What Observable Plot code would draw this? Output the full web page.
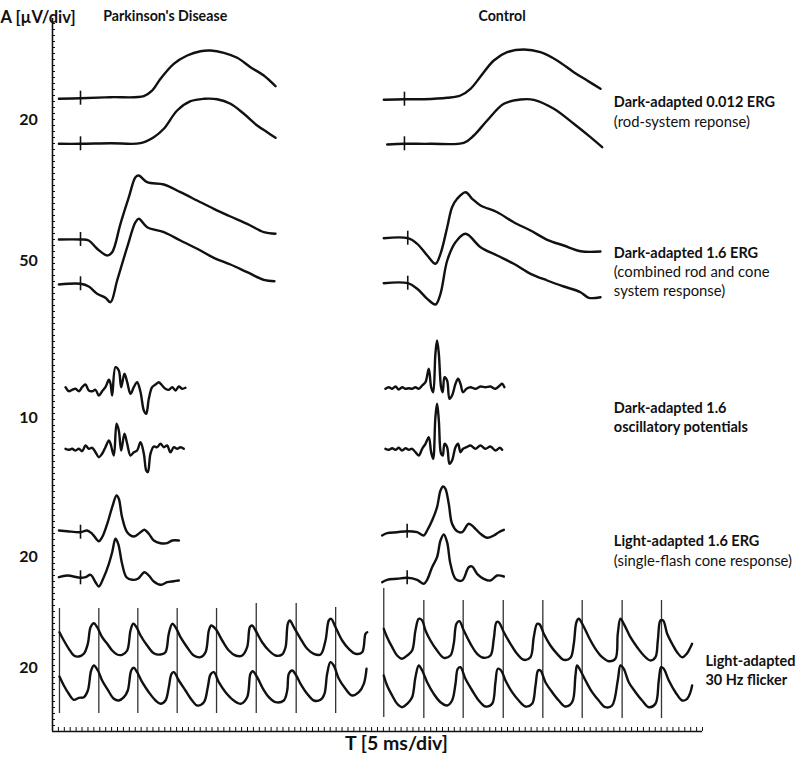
<!DOCTYPE html>
<html><head><meta charset="utf-8">
<script src="https://cdn.jsdelivr.net/npm/d3@7"></script>
<script src="https://cdn.jsdelivr.net/npm/@observablehq/plot@0.6"></script>
<style>body{margin:0;background:#fff}#chart svg{display:block}</style>
</head><body><div id="chart"></div>
<script>
// ---------- DATA (x: time in ms, y: vertical trace units) ----------
const groupNames = ["Parkinson's Disease", "Control"];
const scaleLabels = ["20", "50", "10", "20", "20"];
const panelTitles = ["Dark-adapted 0.012 ERG", "Dark-adapted 1.6 ERG", "Dark-adapted 1.6\noscillatory potentials", "Light-adapted 1.6 ERG", "Light-adapted\n30 Hz flicker"];
const panelNotes = ["(rod-system reponse)", "(combined rod and cone\nsystem response)", "", "(single-flash cone response)", ""];
const axisTitleY = "A [µV/div]";
const axisTitleX = "T [5 ms/div]";

// Dark-adapted 0.012 ERG
const rodPD_top = [[5.4,632.7],[23.7,633.3],[49.1,634.3],[77.3,635.3],[84.4,641],[91.4,652.7],[102.6,667.7],[114.0,676],[125.2,680.3],[133.7,681],[145.0,678.7],[156.3,673.7],[167.5,664.3],[178.8,656],[188.7,645.3]];
const rodPD_bot = [[5.4,587.7],[23.7,587.7],[49.1,588.3],[74.5,588.3],[85.7,594.3],[94.2,602.7],[105.5,621],[116.8,630.3],[128.0,632.7],[139.3,632.3],[150.6,627.7],[161.9,617.7],[173.2,606],[181.7,599.3],[188.7,593.7]];
const rodCtl_top = [[280.3,631.7],[297.8,632.3],[314.2,632.3],[334.0,633.7],[345.2,636],[353.7,642.7],[362.2,655],[373.4,671],[384.7,679.3],[398.8,682],[412.9,679.3],[427.0,671],[441.1,659.3],[452.4,651],[463.7,642.7]];
const rodCtl_bot = [[283.2,587],[297.8,587.7],[319.8,587.7],[348.0,588.7],[356.5,596],[367.8,611],[381.9,627.7],[396.0,632],[407.3,631.7],[424.2,622.7],[441.1,607.7],[455.2,594.3],[465.1,584.3]];

// Dark-adapted 1.6 ERG
const mixPD_top = [[5.4,492],[23.7,492],[30.7,491],[37.8,482.7],[46.3,476],[50.5,479.3],[57.5,507.7],[64.6,534.3],[70.2,554.3],[73.0,556],[80.1,549.3],[94.2,547],[108.3,539.3],[122.4,531],[136.5,522.7],[150.6,515],[164.7,507.7],[178.8,499.3],[188.7,497.7]];
const mixPD_bot = [[5.4,447],[23.7,447.7],[30.7,445],[37.8,437.7],[44.8,433.7],[49.1,429.3],[54.7,451],[63.2,484.3],[70.2,509.3],[73.0,512.7],[80.1,504.3],[94.2,499.3],[108.3,491],[122.4,482.7],[136.5,473.7],[150.6,467],[164.7,459.3],[178.8,451.7],[187.8,450.3]];
const mixCtl_top = [[280.3,493.3],[300.6,493.3],[308.6,487.7],[317.1,476],[324.1,467.7],[328.3,477.7],[334.0,504.3],[338.1,524.3],[342.4,532.7],[349.5,539.3],[355.1,532.7],[362.2,526],[376.3,519.3],[390.3,509.3],[404.5,501],[418.6,491.7],[432.6,486],[446.8,480.3],[463.7,480]];
const mixCtl_bot = [[280.3,448.3],[300.6,448.3],[308.6,442.7],[317.1,432.7],[324.1,427],[328.3,437.7],[334.0,471],[341.0,489.3],[349.5,497.7],[362.2,484.3],[376.3,476],[390.3,467.7],[404.5,457.7],[418.6,451],[432.6,445],[446.8,439.3],[453.8,433.7],[463.7,434.3]];

// Dark-adapted 1.6 oscillatory potentials
const opsPD_t_top = [11.0,13.8,16.6,19.5,22.3,25.1,27.9,30.7,33.6,36.4,39.2,42.0,44.8,47.7,49.1,50.5,53.3,56.1,58.1,60.9,63.2,66.0,68.8,71.6,74.5,77.3,79.3,81.5,84.3,87.2,90.0,92.8,95.6,98.4,101.3,104.1,106.9,109.7,112.5];
const opsPD_top = [344.3,340.3,341.7,342.7,340.3,344.3,347,341,340.3,341.7,336,340.3,344.3,351.7,347.7,336,364.3,361,344.3,357.7,349.3,337.7,344.3,349.3,339.3,321,317.7,332.7,344.3,347,349.3,346,342.7,341.7,344.3,341,345,342.7,343.7];
const opsPD_t_bot = [11.0,13.8,16.6,19.5,22.3,25.1,27.9,30.7,33.6,36.4,39.2,42.0,44.8,47.7,49.1,51.9,54.2,56.1,58.1,60.9,63.2,66.0,68.8,71.6,74.5,77.3,79.3,80.7,82.9,85.7,88.6,91.4,94.2,97.0,99.8,102.7,105.5,108.3,111.1];
const opsPD_bot = [282.7,281.7,282.7,281,282.7,280.3,286,282.7,283.7,279.3,274.3,277.7,284.3,291,287.7,276,307.7,301,281,297.7,287.7,276,279.3,281,289.3,277.7,261,259.3,277.7,285,284.3,287.7,284.3,286,279.3,284.3,282.7,284.3,282.7];
const opsCtl_t_top = [281.7,284.6,287.4,290.2,293.0,295.8,298.7,301.5,304.3,307.1,309.9,312.8,315.6,318.4,320.4,322.1,324.0,325.4,326.9,328.8,330.2,331.7,333.9,335.9,338.1,341.0,343.2,345.2,347.4,350.3,353.7,357.9,362.1,366.3,370.6,374.8,378.5,380.5,382.4];
const opsCtl_top = [342.7,344.3,342.7,345,342,344.3,342.7,343.3,342.7,344.3,342.7,346,349.3,362.7,344.3,339.3,377.7,391,377.7,344.3,339.3,354.3,351,332.7,336,347.7,352.7,347.7,339.3,342.7,344.3,342.7,345,344.3,345,342.7,346,347.7,344.3];
const opsCtl_t_bot = [281.7,284.6,287.4,290.2,293.0,295.8,298.7,301.5,304.3,307.1,309.9,312.8,315.6,318.4,320.4,322.1,324.0,325.4,326.9,328.8,330.2,331.7,333.9,335.9,338.1,341.0,343.2,345.2,347.4,350.3,353.7,357.9,362.1,366.3,370.6,374.8,378.5,380.5];
const opsCtl_bot = [282.7,281.7,283.3,281.7,283.7,281,283.3,281.7,282.7,279.3,276,282.7,287.7,294.3,279.3,272.7,314.3,327.7,311,277.7,276,287.7,284.3,267.7,271,284.3,287.7,279.3,282.7,284.3,286,282.7,286,282.7,285,281,283.7,281.7];

// Light-adapted 1.6 ERG
const conePD_top = [[5.4,201],[12.4,200.3],[23.7,199.3],[29.3,201],[33.6,197.7],[39.2,190.3],[42.0,194.3],[46.3,207.7],[50.5,224.3],[54.2,236],[56.1,232.7],[58.9,214.3],[63.2,199.3],[68.8,195],[74.5,199.3],[77.8,201.7],[81.5,197.7],[85.7,191],[91.4,188.3],[97.0,188.3],[101.3,191],[106.9,191]];
const conePD_bot = [[5.4,154.3],[12.4,156],[23.7,153.7],[27.9,154.3],[32.2,156.7],[36.4,149.3],[39.2,145],[43.4,154.3],[47.7,167.7],[50.5,179.3],[53.3,192.7],[55.6,187.7],[58.9,167.7],[62.6,154.3],[67.4,151.7],[72.2,152.7],[77.8,159.3],[81.5,156],[85.7,150],[91.4,146.7],[97.0,149.3],[102.7,150.3],[106.9,151]];
const coneCtl_top = [[278.9,196],[283.1,198.3],[291.6,199.3],[300.1,200.3],[308.5,199.3],[314.2,196],[317.0,201],[321.2,211],[325.4,224.3],[328.3,241],[330.5,245],[332.5,242.7],[335.3,227.7],[338.1,207.7],[342.4,200.3],[346.6,199.3],[352.2,207.7],[356.5,204.3],[362.1,197.7],[367.8,193.7],[373.4,196],[377.6,199.3],[381.9,201.7]];
const coneCtl_bot = [[278.9,149.3],[283.1,151.7],[291.6,152.7],[300.1,153.7],[308.5,151.7],[314.2,147.7],[317.0,151.7],[321.2,164.3],[325.4,174.3],[328.3,191],[331.1,197],[333.9,189.3],[336.7,167.7],[341.0,152.7],[346.6,151],[352.2,164.3],[355.1,165],[359.3,157.7],[364.9,152.7],[370.6,151],[376.2,156],[381.9,155]];

// Light-adapted 30 Hz flicker
const flkPD_t_top = [5.9,9.6,13.8,18.1,22.3,26.5,29.9,32.2,35.0,37.8,42.0,46.3,50.5,54.7,58.9,63.2,66.0,68.3,71.1,74.5,80.1,85.7,91.4,95.6,98.4,101.3,104.1,108.3,113.9,119.6,125.2,129.5,132.3,134.3,137.9,143.6,149.2,154.8,160.5,164.7,167.0,168.9,171.8,177.4,183.1,188.7,194.3,197.2,199.1,200.8,204.2,209.9,215.5,221.1,226.8,231.0,233.8,235.8,239.5,245.1,250.7,256.4,262.0,264.8,266.3];
const flkPD_top = [99.3,91,82.7,76,75,77.7,87.7,104.3,108.3,104.3,94.3,87.7,81,77,76.7,81,101,107.7,104.3,96,86,78.3,77,79.3,97.7,107.7,104.3,94.3,84.3,76,74.3,79.3,101,106,102.7,91,81,76,76,84.3,104.3,106,101,89.3,81,76,77,84.3,107.7,111,104.3,92.7,82.7,77.7,77,91,111,112.7,104.3,91,82.7,77.7,79.3,97.7,99.3];
const flkPD_t_bot = [5.9,9.6,13.8,18.1,22.3,26.5,29.9,32.7,35.0,38.4,42.0,46.3,51.9,56.1,60.4,63.7,66.6,68.8,71.6,75.9,81.5,87.2,91.4,95.6,98.4,100.7,102.7,106.9,112.5,118.2,122.4,128.1,131.4,133.7,136.5,140.7,146.4,153.4,159.1,164.7,167.5,169.5,173.2,177.4,183.1,188.7,195.7,198.6,200.0,202.8,206.2,209.9,215.5,221.1,226.8,230.1,232.4,235.2,238.0,242.3,247.9,253.5,259.2,263.4,265.7];
const flkPD_bot = [55,46,37.7,31.7,33.7,34.3,41,61,66,61,51,42.7,32.7,31,34.3,41,61,63.7,59.3,49.3,39.3,31,27.7,31,44.3,57.7,59.3,51,41,31,26,29.3,44.3,57,59.3,49.3,39.3,31,27.7,34.3,57.7,60.3,54.3,44.3,34.3,29.3,31,41,57.7,61,56,47.7,37.7,31,31.7,37.7,57.7,69.3,66,52.7,42.7,36,39.3,47.7,62.7];
const flkCtl_t_top = [280.3,283.1,287.4,291.6,295.8,300.1,304.3,307.1,309.9,312.8,315.6,319.8,325.4,331.1,336.7,339.5,341.8,344.3,348.0,353.7,359.3,364.9,370.6,373.4,375.7,377.6,381.9,387.5,393.1,398.8,404.4,407.2,410.1,412.3,415.7,421.3,427.0,432.6,438.3,441.1,443.3,445.3,449.0,453.8,459.4,465.1,470.7,476.3,478.3,480.6,483.4,489.0,494.7,500.3,506.0,510.2,512.2,514.4,516.7,520.1,524.3,528.5,532.8,537.0,539.8,541.2];
const flkCtl_top = [102.7,94.3,84.3,76,72.7,76,81,101,112.7,111,101,91,81,73.7,76,87.7,107.7,110.3,101,87.7,77.7,73.7,76,92.7,109.3,109.3,99.3,87.7,77.7,71.7,74.3,94.3,107.7,107,97.7,86,77.7,71.7,73.7,87.7,109.3,112.7,106,94.3,82.7,74.3,70.3,72.7,97.7,112.7,107.7,94.3,84.3,76,71,74.3,91,111,111,97.7,87.7,79.3,74.3,78.3,84.3,87.7];
const flkCtl_t_bot = [280.3,283.1,287.4,291.6,295.8,300.1,304.3,307.1,309.9,312.8,317.0,322.6,328.3,333.9,338.1,341.0,342.9,345.2,349.4,355.1,360.7,366.3,372.0,374.8,376.8,379.6,383.3,388.9,394.5,400.2,405.8,408.7,410.9,412.9,417.1,422.8,428.4,434.0,439.7,442.5,443.9,446.7,451.0,456.6,462.2,467.9,473.5,478.3,480.6,483.4,487.6,493.3,498.9,504.6,510.2,513.0,515.0,517.2,521.5,527.1,532.8,537.0,539.8,541.2];
const flkCtl_bot = [56,46,36,27.7,24.3,27.7,34.3,54.3,66,61,49.3,37.7,29.3,26,31,47.7,62.7,64.3,52.7,41,31,25,27.7,49.3,62.7,61,51,39.3,31,25,27.7,46,61,61,49.3,39.3,31,25,29.3,56,66,61,51,39.3,31,24.3,26,51,66,62.7,49.3,39.3,31,24.3,27.7,51,64.3,62.7,51,39.3,31,32.7,39.3,46];

// flicker stimulus lines: time, lower end, upper end
const flickerLineT = [5.9,39.2,72.2,105.5,138.8,172.4,206.2,239.6,280.3,314.2,347.5,381.4,414.9,448.2,482.0,515.3];
const flickerLineLow = [18,18,18,18,18,18,18,18,14,13,13,13,13,13,13,13];
const flickerLineHigh = [123,123,123,123,123,128,128,124,143,131,131,131,131,131,131,131];

// stimulus onset markers (rod, mixed, cone panels)
const stimPD = [23.7, 23.7, 23.7];
const stimCtl = [297.8, 300.6, 300.1];

// ---------- BUILD ----------
const zipT = (t, v) => d3.zip(t, v);
const panels = [
  {pd: [rodPD_top, rodPD_bot], ctl: [rodCtl_top, rodCtl_bot]},
  {pd: [mixPD_top, mixPD_bot], ctl: [mixCtl_top, mixCtl_bot]},
  {pd: [zipT(opsPD_t_top, opsPD_top), zipT(opsPD_t_bot, opsPD_bot)], ctl: [zipT(opsCtl_t_top, opsCtl_top), zipT(opsCtl_t_bot, opsCtl_bot)]},
  {pd: [conePD_top, conePD_bot], ctl: [coneCtl_top, coneCtl_bot]},
  {pd: [zipT(flkPD_t_top, flkPD_top), zipT(flkPD_t_bot, flkPD_bot)], ctl: [zipT(flkCtl_t_top, flkCtl_top), zipT(flkCtl_t_bot, flkCtl_bot)]}
];

const lineRows = [];
panels.forEach((p, i) => {
  [...p.pd, ...p.ctl].forEach((pts, j) => {
    pts.forEach(([t, v]) => lineRows.push({id: `${i}-${j}`, t, v}));
  });
});

function valueAt(pts, t) {
  for (let k = 0; k < pts.length - 1; k++) {
    if (pts[k][0] <= t && t <= pts[k + 1][0]) {
      const f = (t - pts[k][0]) / (pts[k + 1][0] - pts[k][0] || 1);
      return pts[k][1] + f * (pts[k + 1][1] - pts[k][1]);
    }
  }
  return pts[0][1];
}
const MARK = 7;
const stimRows = [];
[0, 1, 3].forEach((pi, k) => {
  panels[pi].pd.forEach(pts => stimRows.push({t: stimPD[k], v: valueAt(pts, stimPD[k])}));
  panels[pi].ctl.forEach(pts => stimRows.push({t: stimCtl[k], v: valueAt(pts, stimCtl[k])}));
});

const flickerRows = flickerLineT.map((t, i) => ({t, lo: flickerLineLow[i], hi: flickerLineHigh[i]}));

// panel centre level (between the two Parkinson traces)
const centers = panels.map((p, i) => i < 4
  ? (p.pd[0][0][1] + p.pd[1][0][1]) / 2
  : (d3.mean(p.pd[0], d => d[1]) + d3.mean(p.pd[1], d => d[1])) / 2);

// layout (not data)
const LEFT_SHIFT = [1, 1.5, 0, -3.5, -4.5];
const RIGHT_SHIFT = [9, -10.5, 0, 2.5, -7.5];
const LABEL_X = [475, 475, 475, 475, 552.5];
const LINE = 19;

const scaleRows = scaleLabels.map((s, i) => ({s, v: centers[i] + LEFT_SHIFT[i]}));
const labelRows = [];
panelTitles.forEach((title, i) => {
  const lines = title.split("\n").map(s => ({s, bold: true}))
    .concat(panelNotes[i] ? panelNotes[i].split("\n").map(s => ({s, bold: false})) : []);
  const n = lines.length;
  lines.forEach((ln, k) => labelRows.push({
    s: ln.s, bold: ln.bold, t: LABEL_X[i],
    v: centers[i] + RIGHT_SHIFT[i] - (k - (n - 1) / 2) * LINE
  }));
});

const pdCenter = (panels[0].pd[0][0][0] + panels[0].pd[0][panels[0].pd[0].length - 1][0]) / 2;
const ctlCenter = (panels[0].ctl[0][0][0] + panels[0].ctl[0][panels[0].ctl[0].length - 1][0]) / 2;
const groupRows = [{s: groupNames[0], t: pdCenter}, {s: groupNames[1], t: ctlCenter}];

const INK = "#111";
const chart = Plot.plot({
  width: 796, height: 758,
  marginLeft: 52, marginRight: 94, marginTop: 18, marginBottom: 27,
  x: {domain: [0, 550], axis: null},
  y: {domain: [0, 713], axis: null},
  style: {fontFamily: "Lato, 'DejaVu Sans', sans-serif", background: "#fff", color: INK, overflow: "visible"},
  marks: [
    Plot.ruleX([0], {stroke: INK, strokeWidth: 1.6}),
    Plot.ruleY([0], {stroke: INK, strokeWidth: 1.6}),
    Plot.tickY(d3.range(0, 713, 6), {y: d => d, insetRight: 647, stroke: INK, strokeWidth: 1}),
    Plot.tickX(d3.range(0, 551, 5), {x: d => d, insetTop: 709, stroke: INK, strokeWidth: 1}),
    Plot.ruleX(flickerRows, {x: "t", y1: "lo", y2: "hi", stroke: "#333", strokeWidth: 1.3}),
    Plot.ruleX(stimRows, {x: "t", y1: d => d.v - MARK, y2: d => d.v + MARK, stroke: INK, strokeWidth: 1.6}),
    Plot.line(lineRows, {x: "t", y: "v", z: "id", curve: "catmull-rom", stroke: INK, strokeWidth: 2.4, strokeLinejoin: "round", strokeLinecap: "round"}),
    Plot.text(scaleRows, {y: "v", text: "s", frameAnchor: "left", dx: -24, textAnchor: "middle", fontWeight: "bold", fontSize: 16, fill: INK}),
    Plot.text(labelRows.filter(d => d.bold), {x: "t", y: "v", text: "s", textAnchor: "start", fontWeight: "bold", fontSize: 14.5, fill: INK}),
    Plot.text(labelRows.filter(d => !d.bold), {x: "t", y: "v", text: "s", textAnchor: "start", fontSize: 14.8, fill: INK}),
    Plot.text(groupRows.slice(0, 1), {x: "t", text: "s", frameAnchor: "top", dy: -8, dx: -2, fontWeight: "bold", fontSize: 14.2, fill: INK}),
    Plot.text(groupRows.slice(1), {x: "t", text: "s", frameAnchor: "top", dy: -8, dx: 10, fontWeight: "bold", fontSize: 14.2, fill: INK}),
    Plot.text([axisTitleY], {text: d => d, frameAnchor: "top-left", dx: -52, dy: -7, textAnchor: "start", fontWeight: "bold", fontSize: 16.5, fill: INK}),
    Plot.text([axisTitleX], {text: d => d, frameAnchor: "bottom", dx: 19, dy: 18, fontWeight: "bold", fontSize: 19.5, fill: INK})
  ]
});
document.getElementById("chart").appendChild(chart);
</script>
</body></html>
